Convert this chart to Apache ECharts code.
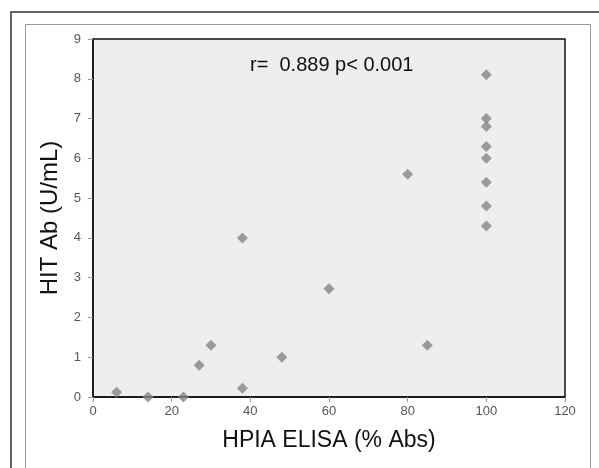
<!DOCTYPE html>
<html><head><meta charset="utf-8">
<script src="https://cdn.jsdelivr.net/npm/echarts@6/dist/echarts.min.js"></script>
<style>html,body{margin:0;padding:0;background:#fff}#c{width:599px;height:468px}</style>
</head><body><div id="c"></div>
<script>
const hpiaElisa = [6, 14, 23, 27, 30, 38, 38, 48, 60, 80, 85, 100, 100, 100, 100, 100, 100, 100, 100];
const hitAb =     [0.12, 0, 0, 0.8, 1.3, 0.22, 4.0, 1.0, 2.72, 5.6, 1.3, 8.1, 7.0, 6.8, 6.3, 6.0, 5.4, 4.8, 4.3];
const xTicks = [0, 20, 40, 60, 80, 100, 120];
const yTicks = [0, 1, 2, 3, 4, 5, 6, 7, 8, 9];
const annotation = 'r=  0.889 p< 0.001';

const chart = echarts.init(document.getElementById('c'), null, {renderer: 'canvas'});
const font = 'Liberation Sans, Arial, sans-serif';
chart.setOption({
  animation: false,
  backgroundColor: '#fff',
  grid: {left: 93, top: 39, right: 34, bottom: 71, show: true, backgroundColor: '#eeeeee', borderColor: '#111', borderWidth: 1.5},
  xAxis: {
    type: 'value', min: xTicks[0], max: xTicks[xTicks.length - 1], interval: 20,
    name: 'HPIA ELISA (% Abs)', nameLocation: 'middle', nameGap: 32,
    nameTextStyle: {fontSize: 23, color: '#111', fontFamily: font},
    axisLine: {show: true, lineStyle: {color: '#111', width: 1.5}},
    axisTick: {show: true, length: 5, lineStyle: {color: '#999'}},
    axisLabel: {fontSize: 13, color: '#555', fontFamily: font, margin: 8},
    splitLine: {show: false}
  },
  yAxis: {
    type: 'value', min: yTicks[0], max: yTicks[yTicks.length - 1], interval: 1,
    name: 'HIT Ab (U/mL)', nameLocation: 'middle', nameGap: 30,
    nameTextStyle: {fontSize: 24, color: '#111', fontFamily: font},
    axisLine: {show: true, lineStyle: {color: '#111', width: 1.5}},
    axisTick: {show: true, length: 5, lineStyle: {color: '#999'}},
    axisLabel: {fontSize: 13, color: '#555', fontFamily: font, margin: 12},
    splitLine: {show: false}
  },
  series: [{
    type: 'scatter',
    symbol: 'diamond',
    symbolSize: 11,
    itemStyle: {color: '#858585'},
    data: hpiaElisa.map((x, i) => [x, hitAb[i]])
  }],
  graphic: [
    {type: 'rect', shape: {x: 11, y: 12, width: 620, height: 500}, style: {fill: 'none', stroke: '#333', lineWidth: 1.5}, silent: true},
    {type: 'rect', shape: {x: 25.5, y: 24.5, width: 565, height: 480}, style: {fill: 'none', stroke: '#999', lineWidth: 1}, silent: true},
    {type: 'text', left: 250, top: 55, style: {text: annotation, fontSize: 20, fill: '#111', fontFamily: font}, silent: true}
  ]
});
</script></body></html>
